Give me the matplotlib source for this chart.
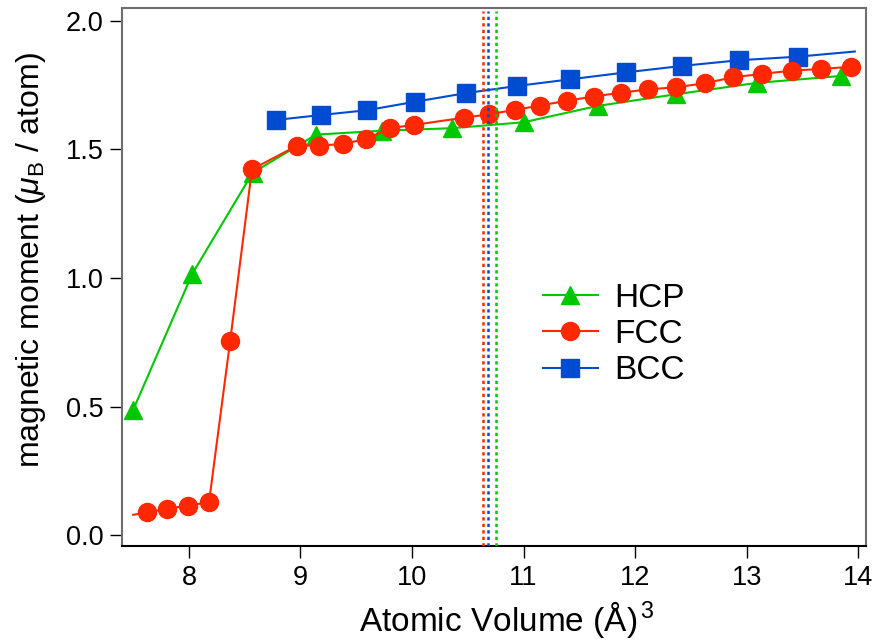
import matplotlib
matplotlib.use("Agg")
import matplotlib.pyplot as plt


# =========================
# DATA
# =========================

HCP_X = [7.50, 8.03, 8.57, 9.14, 9.73, 10.36, 11.00, 11.67, 12.37, 13.09, 13.85]
HCP_Y = [0.487, 1.016, 1.408, 1.557, 1.572, 1.582, 1.605, 1.669, 1.714, 1.758, 1.785]

# first FCC point is drawn without a marker
FCC_X = [7.50, 7.62, 7.80, 7.99, 8.18, 8.37, 8.565, 8.97, 9.17, 9.38, 9.59,
         9.80, 10.02, 10.47, 10.69, 10.92, 11.15, 11.39, 11.63, 11.87, 12.12,
         12.37, 12.63, 12.88, 13.14, 13.41, 13.67, 13.94]
FCC_Y = [0.079, 0.089, 0.102, 0.115, 0.128, 0.756, 1.422, 1.514, 1.514, 1.521,
         1.540, 1.582, 1.595, 1.623, 1.636, 1.653, 1.670, 1.689, 1.705, 1.720,
         1.733, 1.741, 1.757, 1.780, 1.793, 1.806, 1.812, 1.821]

# last BCC point is drawn without a marker
BCC_X = [8.78, 9.18, 9.60, 10.03, 10.48, 10.94, 11.42, 11.92, 12.42, 12.93, 13.46, 13.97]
BCC_Y = [1.614, 1.633, 1.652, 1.685, 1.718, 1.746, 1.772, 1.799, 1.824, 1.846, 1.860, 1.880]

# equilibrium volumes (dotted lines)
V0_FCC = 10.64
V0_BCC = 10.685
V0_HCP = 10.753

X_TICKS = [8, 9, 10, 11, 12, 13, 14]
Y_TICKS = [0.0, 0.5, 1.0, 1.5, 2.0]

COLORS = {
    "HCP": "#00C800",
    "FCC": "#FF2800",
    "BCC": "#004CD0",
}


# =========================
# PLOT
# =========================

def main():
    plt.rcParams["font.family"] = ["Liberation Sans", "DejaVu Sans"]
    plt.rcParams["mathtext.fontset"] = "custom"
    plt.rcParams["mathtext.rm"] = "Liberation Sans"
    plt.rcParams["mathtext.it"] = "Liberation Sans:italic"

    fig = plt.figure(figsize=(8.88, 6.43), dpi=100)
    ax = fig.add_axes([0.1374, 0.1509, 0.8378, 0.8374])

    ax.plot(HCP_X, HCP_Y, color=COLORS["HCP"], lw=1.5, marker="^", ms=13,
            label="HCP", zorder=3)
    ax.plot(FCC_X, FCC_Y, color=COLORS["FCC"], lw=1.5, marker="o", ms=13,
            markevery=list(range(1, len(FCC_X))), label="FCC", zorder=4)
    ax.plot(BCC_X, BCC_Y, color=COLORS["BCC"], lw=1.5, marker="s", ms=13,
            markevery=list(range(len(BCC_X) - 1)), label="BCC", zorder=3)

    for v0, key in [(V0_FCC, "FCC"), (V0_BCC, "BCC"), (V0_HCP, "HCP")]:
        ax.axvline(v0, ymax=0.993, color=COLORS[key], lw=1.8,
                   linestyle=(0, (1.3, 1.3)), zorder=5)

    ax.set_xlim(7.40, 14.07)
    ax.set_ylim(-0.042, 2.051)
    ax.set_xticks(X_TICKS)
    ax.set_yticks(Y_TICKS)
    ax.set_yticklabels([f"{v:.1f}" for v in Y_TICKS])

    ax.tick_params(direction="out", length=8.5, width=1.0, labelsize=19.5,
                   pad=5)

    for side in ["left", "top", "right"]:
        ax.spines[side].set_color("#6E6E6E")
        ax.spines[side].set_linewidth(1.5)
    ax.spines["bottom"].set_color("black")
    ax.spines["bottom"].set_linewidth(1.5)

    ax.set_xlabel(r"Atomic Volume (Å)$^{\,3}$", fontsize=24)
    ax.set_ylabel(r"magnetic moment ($\mu_{\mathrm{B}}$ / atom)", fontsize=23)
    ax.xaxis.set_label_coords(0.517, -0.098)
    ax.yaxis.set_label_coords(-0.100, 0.531)

    ax.legend(loc="center left", bbox_to_anchor=(0.566, 0.393), frameon=False,
              fontsize=24, handlelength=1.64, handletextpad=0.48,
              labelspacing=0.16, borderpad=0.0, borderaxespad=0.0)

    fig.savefig("out.png", dpi=100)
    plt.close(fig)


if __name__ == "__main__":
    main()
